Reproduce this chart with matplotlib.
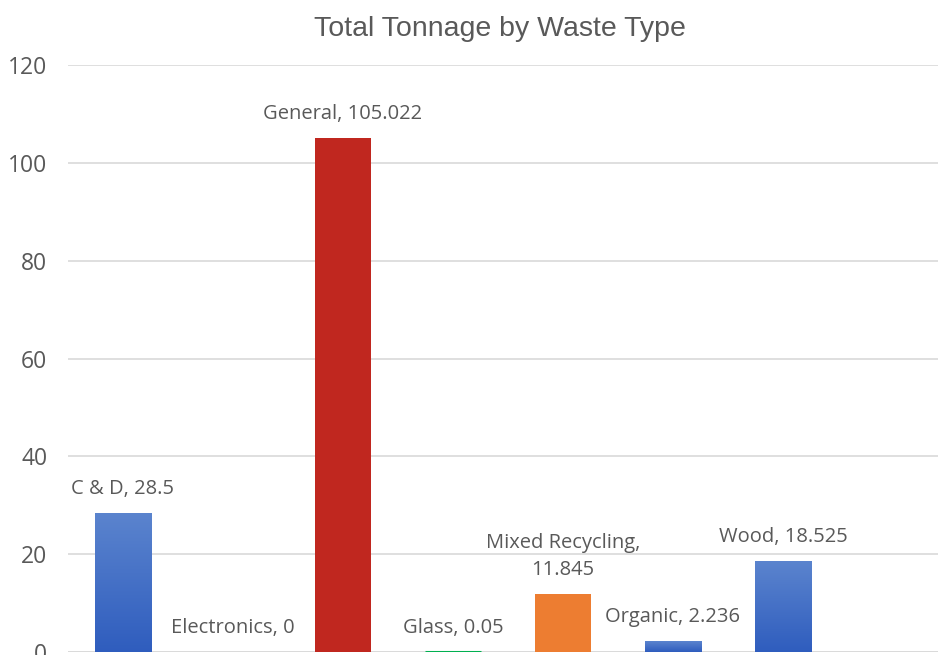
import matplotlib
matplotlib.use("Agg")
import matplotlib.pyplot as plt
import numpy as np
from matplotlib.colors import LinearSegmentedColormap

categories = ["C & D", "Electronics", "General", "Glass", "Mixed Recycling", "Organic", "Wood"]
tonnage = [28.5, 0, 105.022, 0.05, 11.845, 2.236, 18.525]
label_text = ["C & D, 28.5", "Electronics, 0", "General, 105.022", "Glass, 0.05",
              "Mixed Recycling,\n11.845", "Organic, 2.236", "Wood, 18.525"]
bar_colors = ["grad", "grad", "#C0271F", "#00B050", "#ED7D31", "grad", "grad"]
y_ticks = [0, 20, 40, 60, 80, 100, 120]

text_color = "#595959"
blue_grad = LinearSegmentedColormap.from_list("blue", ["#2F5DBE", "#5B84CE"])

fig = plt.figure(figsize=(9.38, 6.55), dpi=100)
ax = fig.add_axes([68 / 938, 3 / 655, 870 / 938, 587 / 655])

width = 0.51
for i, (v, c) in enumerate(zip(tonnage, bar_colors)):
    if v <= 0:
        continue
    if c == "grad":
        bar = ax.bar(i, v, width=width, color="none", edgecolor="none", zorder=3)[0]
        grad = np.linspace(0, 1, 256).reshape(-1, 1)
        im = ax.imshow(grad, cmap=blue_grad, aspect="auto", origin="lower",
                       extent=[i - width / 2, i + width / 2, 0, v], zorder=3)
        im.set_clip_path(bar)
    else:
        ax.bar(i, v, width=width, color=c, zorder=3)
        if v < 1:
            # near-zero bar still shows as a thin coloured line
            ax.plot([i - width / 2, i + width / 2], [v, v], color=c, linewidth=2.2,
                    solid_capstyle="butt", zorder=4)

# data labels
for i, (v, t) in enumerate(zip(tonnage, label_text)):
    ax.annotate(t, (i, v), xytext=(0, 10), textcoords="offset points",
                ha="center", va="bottom", fontsize=14.5, color=text_color,
                family="Open Sans", linespacing=1.45)

ax.set_xlim(-0.5, 7.41)
ax.set_ylim(0, 120)
ax.set_yticks(y_ticks)
ax.set_yticklabels([str(t) for t in y_ticks], fontsize=16.5, color=text_color, family="Open Sans")
ax.set_xticks([])
ax.tick_params(axis="y", length=0, pad=15)
ax.grid(axis="y", color="#D9D9D9", linewidth=1.2, zorder=0)
for s in ax.spines.values():
    s.set_visible(False)
ax.axhline(0, color="#D9D9D9", linewidth=1.2, zorder=1)
ax.set_axisbelow(True)

fig.text(500 / 938, 1 - 29 / 655, "Total Tonnage by Waste Type", ha="center", va="center",
         fontsize=20.5, color=text_color, family="Liberation Sans")

fig.savefig("out.png", dpi=100)
